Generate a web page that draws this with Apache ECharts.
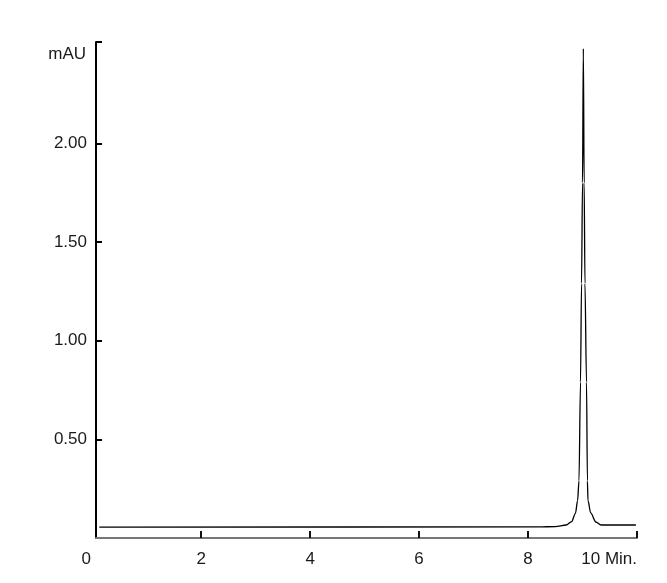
<!DOCTYPE html>
<html>
<head>
<meta charset="utf-8">
<script src="https://cdn.jsdelivr.net/npm/echarts@6/dist/echarts.min.js"></script>
<style>html,body{margin:0;padding:0;background:#fff;}#c{width:667px;height:583px;}</style>
</head>
<body>
<div id="c"></div>
<script>
// Chromatogram data: retention time (min) and absorbance (mAU)
var timeMin = [0.13, 8.2, 8.5, 8.7, 8.8, 8.87, 8.91, 8.935, 8.963, 8.982, 9.0, 9.015, 9.03, 9.045, 9.073, 9.09, 9.10, 9.15, 9.245, 9.34, 9.98];
var absorbance = [0.055, 0.056, 0.058, 0.066, 0.083, 0.125, 0.19, 0.29, 0.79, 1.29, 1.80, 2.48, 1.80, 1.29, 0.79, 0.29, 0.19, 0.127, 0.081, 0.066, 0.066];
var xTickValues = [0.07, 2, 4, 6, 8, 10];
var xTickLabels = ['0', '2', '4', '6', '8', '10 Min.'];
var yTickValues = [0.5, 1.0, 1.5, 2.0];
var yAxisTop = 2.514;

var points = timeMin.map(function (t, i) { return [t, absorbance[i]]; });
var chart = echarts.init(document.getElementById('c'));
var font = 'Liberation Sans, Arial, sans-serif';
chart.setOption({
  animation: false,
  backgroundColor: '#fff',
  grid: { left: 96, top: 42, right: 30, bottom: 45 },
  xAxis: {
    type: 'value', min: 0.07, max: 10,
    axisLine: { show: true, lineStyle: { color: '#777', width: 2 } },
    axisTick: { show: true, inside: true, length: 7, customValues: [2, 4, 6, 8, 10], lineStyle: { color: '#111', width: 2 } },
    axisLabel: {
      customValues: xTickValues,
      formatter: function (v) {
        var i = xTickValues.indexOf(v);
        if (i < 0) return '';
        return i === 0 ? '{z|' + xTickLabels[i] + '}' : xTickLabels[i];
      },
      rich: { z: { padding: [0, 5, 0, 0], fontSize: 17, fontFamily: font, color: '#1a1a1a' } },
      alignMinLabel: 'right', alignMaxLabel: 'right',
      color: '#1a1a1a', fontSize: 17, fontFamily: font, margin: 13
    },
    splitLine: { show: false }
  },
  yAxis: {
    type: 'value', min: 0, max: yAxisTop,
    name: 'mAU', nameLocation: 'end', nameGap: -21,
    nameTextStyle: { color: '#1a1a1a', fontSize: 17, fontFamily: font, align: 'right', padding: [0, 10, 0, 0] },
    axisLine: { show: true, lineStyle: { color: '#000', width: 2 } },
    axisTick: { show: true, inside: true, length: 6, customValues: yTickValues.concat([yAxisTop]), lineStyle: { color: '#000', width: 2 } },
    axisLabel: {
      customValues: yTickValues,
      formatter: function (v) { return v.toFixed(2); },
      color: '#1a1a1a', fontSize: 17, fontFamily: font, margin: 9
    },
    splitLine: { show: false }
  },
  series: [{
    type: 'line', data: points, showSymbol: false,
    smooth: 0.3, smoothMonotone: 'x',
    lineStyle: { color: '#000', width: 1.3 },
    clip: true
  }]
});
</script>
</body>
</html>
